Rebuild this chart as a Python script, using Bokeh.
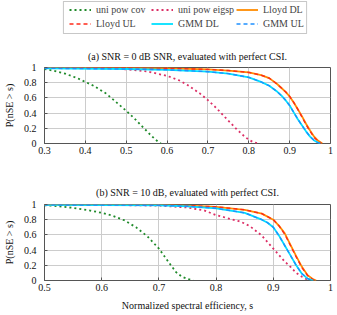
from bokeh.plotting import figure
from bokeh.models import Legend, LegendItem, Title, FixedTicker, Range1d, BoxAnnotation
from bokeh.layouts import column
from bokeh.embed import file_html
from bokeh.resources import INLINE

# ---------------- data: panel (a) SNR = 0 dB ----------------
a_cov_x = [0.30, 0.32, 0.35, 0.38, 0.40, 0.42, 0.45, 0.47, 0.50, 0.52, 0.54, 0.56, 0.57, 0.58, 0.585]
a_cov_y = [0.98, 0.96, 0.92, 0.86, 0.81, 0.76, 0.66, 0.57, 0.43, 0.33, 0.22, 0.11, 0.06, 0.015, 0.0]

a_eig_x = [0.30, 0.40, 0.45, 0.50, 0.55, 0.60, 0.63, 0.65, 0.68, 0.70, 0.72, 0.75, 0.77, 0.79, 0.80, 0.81, 0.82, 0.825]
a_eig_y = [1.0, 0.995, 0.99, 0.975, 0.95, 0.89, 0.83, 0.77, 0.66, 0.57, 0.47, 0.30, 0.19, 0.09, 0.05, 0.02, 0.005, 0.0]

a_lloyd_dl_x = [0.30, 0.50, 0.60, 0.70, 0.75, 0.80, 0.83, 0.85, 0.87, 0.88, 0.89, 0.90, 0.91, 0.92, 0.93, 0.94, 0.95, 0.96, 0.97, 0.98]
a_lloyd_dl_y = [1.0, 0.998, 0.99, 0.975, 0.96, 0.935, 0.90, 0.86, 0.78, 0.73, 0.68, 0.62, 0.54, 0.45, 0.36, 0.26, 0.17, 0.09, 0.035, 0.0]

a_lloyd_ul_x = [0.30, 0.50, 0.60, 0.70, 0.75, 0.80, 0.83, 0.85, 0.87, 0.88, 0.89, 0.90, 0.91, 0.92, 0.93, 0.94, 0.95, 0.96, 0.97, 0.978]
a_lloyd_ul_y = [1.0, 0.998, 0.99, 0.975, 0.96, 0.935, 0.90, 0.86, 0.78, 0.73, 0.68, 0.62, 0.54, 0.45, 0.35, 0.25, 0.16, 0.08, 0.03, 0.0]

a_gmm_dl_x = [0.30, 0.50, 0.60, 0.70, 0.75, 0.80, 0.83, 0.85, 0.86, 0.87, 0.88, 0.89, 0.90, 0.91, 0.92, 0.93, 0.94, 0.95, 0.96, 0.97, 0.975]
a_gmm_dl_y = [0.99, 0.98, 0.97, 0.945, 0.92, 0.87, 0.81, 0.76, 0.72, 0.68, 0.63, 0.57, 0.50, 0.41, 0.32, 0.24, 0.16, 0.09, 0.04, 0.01, 0.0]

a_gmm_ul_x = [0.30, 0.50, 0.60, 0.70, 0.75, 0.80, 0.83, 0.85, 0.86, 0.87, 0.88, 0.89, 0.90, 0.91, 0.92, 0.93, 0.94, 0.95, 0.96, 0.97, 0.975]
a_gmm_ul_y = [0.99, 0.98, 0.97, 0.945, 0.92, 0.87, 0.81, 0.76, 0.72, 0.68, 0.63, 0.57, 0.50, 0.41, 0.32, 0.24, 0.16, 0.09, 0.04, 0.01, 0.0]

# ---------------- data: panel (b) SNR = 10 dB ----------------
b_cov_x = [0.50, 0.52, 0.55, 0.58, 0.60, 0.62, 0.64, 0.66, 0.68, 0.70, 0.72, 0.73, 0.74, 0.75, 0.76]
b_cov_y = [0.99, 0.98, 0.955, 0.92, 0.89, 0.85, 0.79, 0.70, 0.58, 0.42, 0.21, 0.11, 0.05, 0.02, 0.0]

b_eig_x = [0.50, 0.60, 0.70, 0.75, 0.78, 0.80, 0.82, 0.84, 0.85, 0.86, 0.88, 0.90, 0.92, 0.93, 0.94, 0.95, 0.96, 0.963]
b_eig_y = [1.0, 0.995, 0.985, 0.96, 0.92, 0.86, 0.82, 0.78, 0.75, 0.71, 0.59, 0.42, 0.25, 0.18, 0.10, 0.05, 0.01, 0.0]

b_lloyd_dl_x = [0.50, 0.70, 0.75, 0.80, 0.85, 0.88, 0.90, 0.91, 0.92, 0.93, 0.94, 0.95, 0.96, 0.97, 0.975]
b_lloyd_dl_y = [1.0, 0.995, 0.985, 0.97, 0.93, 0.88, 0.80, 0.72, 0.62, 0.47, 0.32, 0.18, 0.07, 0.015, 0.0]

b_lloyd_ul_x = [0.50, 0.70, 0.75, 0.80, 0.85, 0.88, 0.90, 0.91, 0.92, 0.93, 0.94, 0.95, 0.96, 0.97, 0.974]
b_lloyd_ul_y = [1.0, 0.995, 0.985, 0.97, 0.93, 0.88, 0.80, 0.72, 0.61, 0.46, 0.31, 0.17, 0.065, 0.01, 0.0]

b_gmm_dl_x = [0.50, 0.70, 0.75, 0.80, 0.85, 0.88, 0.89, 0.90, 0.91, 0.92, 0.93, 0.94, 0.95, 0.96, 0.97]
b_gmm_dl_y = [0.995, 0.99, 0.975, 0.95, 0.89, 0.80, 0.76, 0.70, 0.59, 0.46, 0.33, 0.20, 0.09, 0.025, 0.0]

b_gmm_ul_x = [0.50, 0.70, 0.75, 0.80, 0.85, 0.88, 0.89, 0.90, 0.91, 0.92, 0.93, 0.94, 0.95, 0.96, 0.97]
b_gmm_ul_y = [0.995, 0.99, 0.975, 0.95, 0.89, 0.80, 0.76, 0.70, 0.59, 0.46, 0.33, 0.20, 0.09, 0.025, 0.0]

series_names = ["uni pow cov", "uni pow eigsp", "Lloyd DL", "Lloyd UL", "GMM DL", "GMM UL"]

a_ticks_x = [0.3, 0.4, 0.5, 0.6, 0.7, 0.8, 0.9, 1.0]
a_labels_x = ["0.3", "0.4", "0.5", "0.6", "0.7", "0.8", "0.9", "1"]
b_ticks_x = [0.5, 0.6, 0.7, 0.8, 0.9, 1.0]
b_labels_x = ["0.5", "0.6", "0.7", "0.8", "0.9", "1"]
ticks_y = [0.0, 0.2, 0.4, 0.6, 0.8, 1.0]
labels_y = ["0", "0.2", "0.4", "0.6", "0.8", "1"]

caption_a = "(a) SNR = 0 dB SNR, evaluated with perfect CSI."
caption_b = "(b) SNR = 10 dB, evaluated with perfect CSI."
ylabel = "P(nSE > s)"
xlabel = "Normalized spectral efficiency, s"

FONT = "Liberation Serif"
W = 337
BL, BR = 43, 7          # shared left/right borders (frames are aligned in a column)
FW = W - BL - BR        # frame width
styles = [
    dict(color="#1f8a2a", line_dash="2 3", line_width=1.8),
    dict(color="#dc2f66", line_dash="2 3", line_width=1.8),
    dict(color="#ff8c00", line_dash="solid", line_width=1.8),
    dict(color="#ff2a1a", line_dash="4 3", line_width=1.4),
    dict(color="#00e0ff", line_dash="solid", line_width=1.8),
    dict(color="#1e90ff", line_dash="4 3", line_width=1.4),
]


def style_axes(p, xt, xl):
    p.xaxis.ticker = FixedTicker(ticks=xt)
    p.xaxis.major_label_overrides = {t: l for t, l in zip(xt, xl)}
    p.yaxis.ticker = FixedTicker(ticks=ticks_y)
    p.yaxis.major_label_overrides = {t: l for t, l in zip(ticks_y, labels_y)}
    for ax in (p.xaxis[0], p.yaxis[0]):
        ax.axis_line_color = None
        ax.major_tick_line_color = "#555555"
        ax.major_tick_in = 3
        ax.major_tick_out = 0
        ax.minor_tick_line_color = None
        ax.major_label_text_font = FONT
        ax.major_label_text_font_size = "10px"
        ax.major_label_text_color = "#111111"
        ax.axis_label_text_font = FONT
        ax.axis_label_text_font_size = "10px"
        ax.axis_label_text_font_style = "normal"
        ax.axis_label_text_color = "#111111"
    p.xaxis.major_label_standoff = 3
    p.yaxis.major_label_standoff = 8
    p.yaxis.axis_label_standoff = 6
    p.xgrid.grid_line_color = "#cccccc"
    p.ygrid.grid_line_color = "#cccccc"
    p.outline_line_color = "#555555"
    p.outline_line_width = 1
    p.background_fill_color = "white"
    p.border_fill_color = "white"


def add_series(p, data):
    rs = []
    for (xs, ys), st in zip(data, styles):
        r = p.line(xs, ys, line_color=st["color"], line_dash=st["line_dash"],
                   line_width=st["line_width"])
        rs.append(r)
    return rs


data_a = [(a_cov_x, a_cov_y), (a_eig_x, a_eig_y), (a_lloyd_dl_x, a_lloyd_dl_y),
          (a_lloyd_ul_x, a_lloyd_ul_y), (a_gmm_dl_x, a_gmm_dl_y), (a_gmm_ul_x, a_gmm_ul_y)]
data_b = [(b_cov_x, b_cov_y), (b_eig_x, b_eig_y), (b_lloyd_dl_x, b_lloyd_dl_y),
          (b_lloyd_ul_x, b_lloyd_ul_y), (b_gmm_dl_x, b_gmm_dl_y), (b_gmm_ul_x, b_gmm_ul_y)]

# ---------------- legend strip (pixel-sized ranges; legend box drawn as annotation) ----------------
SH = 35
pl = figure(width=W, height=SH, output_backend="svg", toolbar_location=None,
            x_range=Range1d(0, FW), y_range=Range1d(0, SH),
            x_axis_type=None, y_axis_type=None,
            min_border_left=BL, min_border_right=BR, min_border_top=0, min_border_bottom=0)
pl.outline_line_color = None
pl.grid.visible = False
pl.background_fill_color = "white"
pl.border_fill_color = "white"
# off-screen line renderers, used only for the legend samples
rsl = []
for st in styles:
    r = pl.line([-100, -99], [-100, -99], line_color=st["color"], line_dash=st["line_dash"],
                line_width=st["line_width"])
    rsl.append(r)
pl.add_layout(BoxAnnotation(left=19, right=263, bottom=2, top=34,
                            fill_alpha=0.0, line_color="#444444", line_width=1))
col_x = [25, 107, 192]
for c in range(3):
    items = [LegendItem(label=series_names[c], renderers=[rsl[c]]),
             LegendItem(label=series_names[c + 3], renderers=[rsl[c + 3]])]
    lg = Legend(items=items, location=(col_x[c], 6), orientation="vertical",
                label_text_font=FONT, label_text_font_size="10px",
                glyph_width=22, glyph_height=11, label_height=11, label_standoff=5,
                spacing=3, padding=0, margin=0, border_line_color=None,
                background_fill_alpha=0.0)
    pl.add_layout(lg, "center")

# ---------------- panel (a) ----------------
p1 = figure(width=W, height=125, output_backend="svg", toolbar_location=None,
            x_range=Range1d(0.3, 1.0), y_range=Range1d(0.0, 1.0),
            min_border_left=BL, min_border_right=BR, min_border_top=32, min_border_bottom=17)
style_axes(p1, a_ticks_x, a_labels_x)
p1.yaxis.axis_label = ylabel
add_series(p1, data_a)
t1 = Title(text=caption_a, text_font=FONT, text_font_size="10px", text_font_style="normal",
           align="center", standoff=12, text_color="#111111")
p1.add_layout(t1, "above")

# ---------------- panel (b) ----------------
p2 = figure(width=W, height=155, output_backend="svg", toolbar_location=None,
            x_range=Range1d(0.5, 1.0), y_range=Range1d(0.0, 1.0),
            min_border_left=BL, min_border_right=BR, min_border_top=44, min_border_bottom=35)
style_axes(p2, b_ticks_x, b_labels_x)
p2.yaxis.axis_label = ylabel
p2.xaxis.axis_label = xlabel
p2.xaxis.axis_label_standoff = 6
add_series(p2, data_b)
t2 = Title(text=caption_b, text_font=FONT, text_font_size="10px", text_font_style="normal",
           align="center", standoff=14, text_color="#111111")
p2.add_layout(t2, "above")

layout = column(pl, p1, p2, spacing=0)

open("out.html", "w").write(file_html(layout, INLINE))
